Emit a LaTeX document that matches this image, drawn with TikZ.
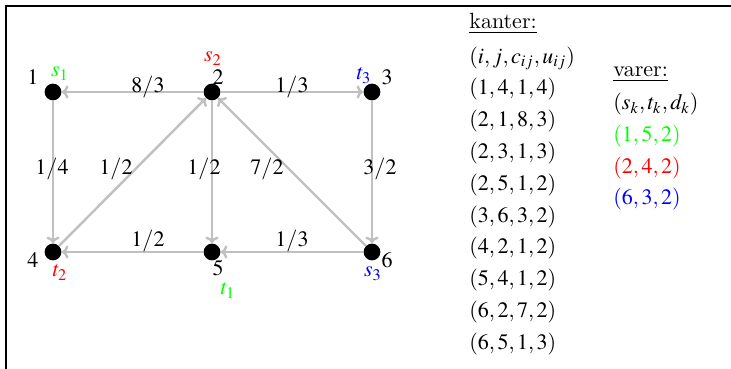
\documentclass[tikz,border=0pt]{standalone}
\usepackage{mathptmx}
\usetikzlibrary{arrows.meta}
\definecolor{edgegray}{RGB}{192,192,192}
\definecolor{cgreen}{RGB}{0,255,0}
\definecolor{cred}{RGB}{255,0,0}
\definecolor{cblue}{RGB}{0,0,255}
\begin{document}
\begin{tikzpicture}[x=0.4545pt,y=-0.4545pt,
  vtx/.style={circle,fill=black,inner sep=0pt,minimum size=7.6pt},
  arc/.style={draw=edgegray,line width=1.1pt,-{To[length=3pt,width=6pt]}},
  lbl/.style={anchor=base,inner sep=0pt},
  row/.style={anchor=base west,inner sep=0pt}]
\useasboundingbox (0,0) rectangle (731,369);
\draw[line width=0.9pt] (6,369) -- (6,6) -- (731,6);
% vertices
\node[vtx] (v1) at (53,92) {};
\node[vtx] (v2) at (212,92) {};
\node[vtx] (v3) at (372,92) {};
\node[vtx] (v4) at (53,252) {};
\node[vtx] (v5) at (212,252) {};
\node[vtx] (v6) at (372,252) {};
% arcs
\draw[arc] (v1) -- (v4);
\draw[arc] (v2) -- (v1);
\draw[arc] (v2) -- (v3);
\draw[arc] (v2) -- (v5);
\draw[arc] (v3) -- (v6);
\draw[arc] (v4) -- (v2);
\draw[arc] (v5) -- (v4);
\draw[arc] (v6) -- (v2);
\draw[arc] (v6) -- (v5);
% arc labels
\node[lbl] (l21) at (148,93) {$8/3$};
\node[lbl] (l23) at (292,93) {$1/3$};
\node[lbl] (l14) at (52,175) {$1/4$};
\node[lbl] (l42) at (116,175) {$1/2$};
\node[lbl] (l25) at (204,175) {$1/2$};
\node[lbl] (l62) at (267,175) {$7/2$};
\node[lbl] (l36) at (380,175) {$3/2$};
\node[lbl] (l54) at (148,247) {$1/2$};
\node[lbl] (l65) at (292,247) {$1/3$};
% vertex labels
\node[lbl] (n1) at (33,85) {$1$};
\node[lbl] (n2) at (218,85) {$2$};
\node[lbl] (n3) at (387,85) {$3$};
\node[lbl] (n4) at (33,268) {$4$};
\node[lbl] (n5) at (218,276) {$5$};
\node[lbl,text=cgreen] (s1) at (60,77) {$s_1$};
\node[lbl,text=cred] (s2) at (213,62) {$s_2$};
\node[lbl,text=cblue] (t3) at (364,80) {$t_3$};
\node[lbl,text=cred] (t2) at (60,277) {$t_2$};
\node[lbl,text=cgreen] (t1) at (228,295) {$t_1$};
\node[lbl,text=cblue] (s3) at (373,277) {$s_3$};
\node[lbl] (n6) at (387,268) {$6$};
% edge list
\node[row] (kh) at (469,29) {\underline{kanter:}};
\node[row] (k0) at (469,63.5) {$(i,j,c_{ij},u_{ij})$};
\node[row] (k1) at (469,94.5) {$(1,4,1,4)$};
\node[row] (k2) at (469,126.4) {$(2,1,8,3)$};
\node[row] (k3) at (469,158.3) {$(2,3,1,3)$};
\node[row] (k4) at (469,190.2) {$(2,5,1,2)$};
\node[row] (k5) at (469,222.1) {$(3,6,3,2)$};
\node[row] (k6) at (469,254.0) {$(4,2,1,2)$};
\node[row] (k7) at (469,285.9) {$(5,4,1,2)$};
\node[row] (k8) at (469,317.8) {$(6,2,7,2)$};
\node[row] (k9) at (469,349.7) {$(6,5,1,3)$};
% commodity list
\node[row] (vh) at (613,77) {\underline{varer:}};
\node[row] (c0) at (613,110) {$(s_k,t_k,d_k)$};
\node[row,text=cgreen] (c1) at (613,142) {$(1,5,2)$};
\node[row,text=cred] (c2) at (613,173.5) {$(2,4,2)$};
\node[row,text=cblue] (c3) at (613,205) {$(6,3,2)$};
\end{tikzpicture}
\end{document}
